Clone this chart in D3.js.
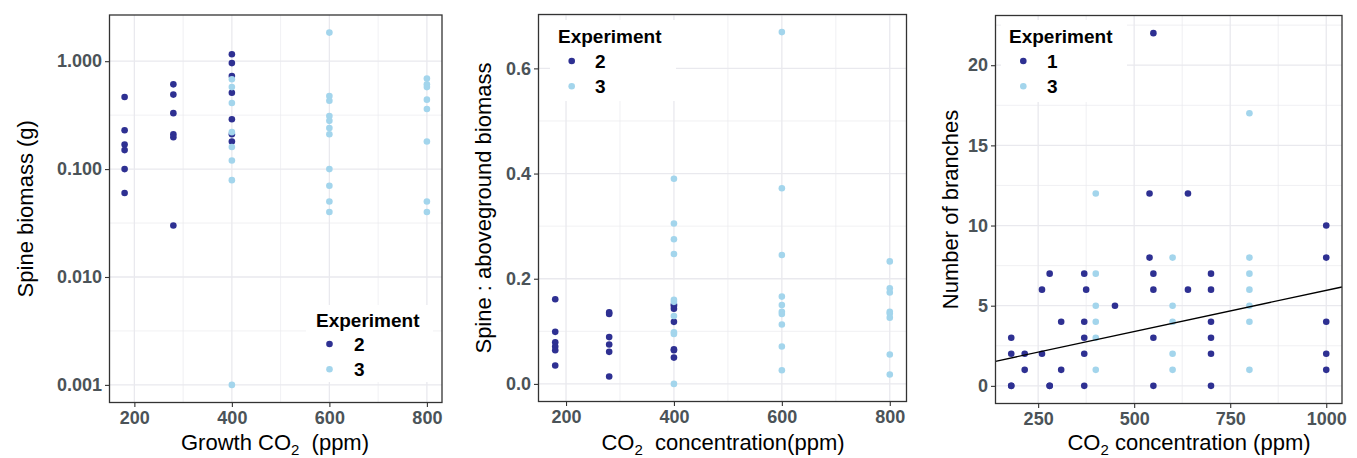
<!DOCTYPE html>
<html>
<head>
<meta charset="utf-8">
<script src="https://cdnjs.cloudflare.com/ajax/libs/d3/7.8.5/d3.min.js"></script>
<style>
    body { margin: 0; background: #fff; }
    svg { display: block; font-family: "Liberation Sans", Arial, Helvetica, sans-serif; }
</style>
</head>
<body>
<svg id="chart" width="1357" height="458"></svg>
<script>
// panel 1: spine biomass (g), log scale
const biomassExp2 = [
    [180, 0.465], [180, 0.229], [180, 0.169], [180, 0.15], [180, 0.10], [180, 0.06],
    [280, 0.61], [280, 0.49], [280, 0.33], [280, 0.21], [280, 0.197], [280, 0.03],
    [400, 1.16], [400, 0.96], [400, 0.73], [400, 0.51], [400, 0.29], [400, 0.21], [400, 0.18]
];
const biomassExp3 = [
    [400, 0.68], [400, 0.575], [400, 0.41], [400, 0.22], [400, 0.16], [400, 0.12], [400, 0.079], [400, 0.001],
    [600, 1.84], [600, 0.475], [600, 0.43], [600, 0.31], [600, 0.28], [600, 0.24], [600, 0.21], [600, 0.10],
    [600, 0.07], [600, 0.05], [600, 0.04],
    [800, 0.69], [800, 0.61], [800, 0.575], [800, 0.44], [800, 0.36], [800, 0.18], [800, 0.05], [800, 0.04]
];
const biomassTicks = [0.001, 0.01, 0.1, 1];

// panel 2: spine : aboveground biomass
const ratioExp2 = [
    [180, 0.161], [180, 0.099], [180, 0.079], [180, 0.071], [180, 0.064], [180, 0.035],
    [280, 0.136], [280, 0.133], [280, 0.089], [280, 0.075], [280, 0.061], [280, 0.014],
    [400, 0.151], [400, 0.148], [400, 0.143], [400, 0.118], [400, 0.066], [400, 0.064], [400, 0.05]
];
const ratioExp3 = [
    [400, 0.39], [400, 0.305], [400, 0.275], [400, 0.247], [400, 0.16], [400, 0.156], [400, 0.129],
    [400, 0.098], [400, 0.095], [400, 0.0],
    [600, 0.669], [600, 0.372], [600, 0.245], [600, 0.166], [600, 0.150], [600, 0.137], [600, 0.133],
    [600, 0.113], [600, 0.071], [600, 0.026],
    [800, 0.233], [800, 0.182], [800, 0.174], [800, 0.137], [800, 0.134], [800, 0.126], [800, 0.056], [800, 0.018]
];
const ratioTicks = [0, 0.2, 0.4, 0.6];

// panel 3: number of branches
const branchExp1 = [
    [180, 3], [180, 2], [180, 0], [180, 0], [215, 2], [215, 1], [260, 6], [260, 2],
    [280, 7], [280, 0], [280, 0], [310, 4], [310, 1],
    [370, 7], [370, 4], [370, 3], [370, 2], [370, 0], [375, 6], [450, 5],
    [540, 12], [540, 8], [550, 22], [550, 7], [550, 6], [550, 3], [550, 0],
    [640, 12], [640, 6], [700, 7], [700, 6], [700, 4], [700, 3], [700, 2], [700, 0],
    [1000, 10], [1000, 8], [1000, 4], [1000, 2], [1000, 1]
];
const branchExp3 = [
    [400, 12], [400, 7], [400, 5], [400, 4], [400, 3], [400, 1],
    [600, 8], [600, 5], [600, 4], [600, 2], [600, 1],
    [800, 17], [800, 8], [800, 7], [800, 6], [800, 5], [800, 4], [800, 1]
];
const branchTicks = [0, 5, 10, 15, 20];
const branchFit = { intercept: 0.815, slope: 0.00514 };

const colours = { dark: "#2e3092", light: "#a3d5ec" };
const gridCol = "#e9e9ee", tickCol = "#4b5358";

const svg = d3.select("#chart");

// ggplot-like 5% expansion
function expand(ext, f = 0.05) {
    const d = (ext[1] - ext[0]) * f;
    return [ext[0] - d, ext[1] + d];
}

function panel(o) {
    const all = o.series.flatMap(s => s.data);
    const x = d3.scaleLinear().domain(expand(d3.extent(all, d => d[0]))).range([o.left, o.right]);
    let y;
    if (o.log) {
        const le = expand(d3.extent(all, d => Math.log10(d[1])));
        y = d3.scaleLog().domain([10 ** le[0], 10 ** le[1]]).range([o.bottom, o.top]);
    } else {
        y = d3.scaleLinear().domain(expand(d3.extent(all, d => d[1]))).range([o.bottom, o.top]);
    }
    const g = svg.append("g");

    g.append("rect").attr("x", o.left).attr("y", o.top)
        .attr("width", o.right - o.left).attr("height", o.bottom - o.top).attr("fill", "#fff");

    // grid
    const [x0, x1] = x.domain(), [y0, y1] = y.domain();
    const inX = v => v >= x0 && v <= x1;
    const inY = v => v >= Math.min(y0, y1) && v <= Math.max(y0, y1);
    const grid = g.append("g");
    o.xMinor.filter(inX).forEach(v => grid.append("line")
        .attr("x1", x(v)).attr("x2", x(v)).attr("y1", o.top).attr("y2", o.bottom)
        .attr("stroke", gridCol).attr("stroke-width", 0.7));
    o.yMinor.filter(inY).forEach(v => grid.append("line")
        .attr("y1", y(v)).attr("y2", y(v)).attr("x1", o.left).attr("x2", o.right)
        .attr("stroke", gridCol).attr("stroke-width", 0.7));
    o.xTicks.forEach(v => grid.append("line")
        .attr("x1", x(v)).attr("x2", x(v)).attr("y1", o.top).attr("y2", o.bottom)
        .attr("stroke", gridCol).attr("stroke-width", 1.3));
    o.yTicks.forEach(v => grid.append("line")
        .attr("y1", y(v)).attr("y2", y(v)).attr("x1", o.left).attr("x2", o.right)
        .attr("stroke", gridCol).attr("stroke-width", 1.3));

    // legend box (drawn over grid, under points)
    const lg = o.legend;
    g.append("rect").attr("x", lg.x).attr("y", lg.y).attr("width", lg.w).attr("height", lg.h).attr("fill", "#fff");

    // points
    o.series.forEach(s => {
        g.append("g").selectAll("circle").data(s.data).join("circle")
            .attr("cx", d => x(d[0])).attr("cy", d => y(d[1])).attr("r", 3.3)
            .attr("fill", s.colour);
    });

    if (o.fit) {
        g.append("line")
            .attr("x1", x(x0)).attr("y1", y(o.fit.intercept + o.fit.slope * x0))
            .attr("x2", x(x1)).attr("y2", y(o.fit.intercept + o.fit.slope * x1))
            .attr("stroke", "#000").attr("stroke-width", 1.3);
    }

    // axes
    const xa = g.append("g").attr("transform", `translate(0,${o.bottom})`)
        .call(d3.axisBottom(x).tickValues(o.xTicks).tickFormat(d3.format("d"))
            .tickSize(4.5).tickPadding(4).tickSizeOuter(0));
    const ya = g.append("g").attr("transform", `translate(${o.left},0)`)
        .call(d3.axisLeft(y).tickValues(o.yTicks).tickFormat(o.yFormat).tickSize(4.5).tickPadding(3).tickSizeOuter(0));
    [xa, ya].forEach(a => {
        a.select(".domain").remove();
        a.selectAll(".tick line").attr("stroke", "#333").attr("stroke-width", 1.1);
        a.selectAll(".tick text").attr("fill", tickCol).attr("font-size", 18).attr("font-weight", "bold")
            .attr("font-family", "Liberation Sans, Arial, sans-serif");
    });
    xa.selectAll(".tick text").attr("dy", "0.72em");

    g.append("rect").attr("x", o.left).attr("y", o.top)
        .attr("width", o.right - o.left).attr("height", o.bottom - o.top)
        .attr("fill", "none").attr("stroke", "#333").attr("stroke-width", 1.3);

    // axis titles
    g.append("text").attr("transform", `translate(${o.yTitleX},${(o.top + o.bottom) / 2}) rotate(-90)`)
        .attr("text-anchor", "middle").attr("font-size", 22).attr("fill", "#000").text(o.yTitle);
    const xt = g.append("text").attr("x", o.xTitleX).attr("y", 450)
        .attr("text-anchor", "middle").attr("font-size", 22).attr("fill", "#000")
        .attr("xml:space", "preserve");
    o.xTitle.forEach(p => {
        const t = xt.append("tspan").text(p.t);
        if (p.sub) t.attr("font-size", 15).attr("dy", 5);
        if (p.up) t.attr("dy", -5);
    });

    // legend
    g.append("text").attr("x", lg.tx).attr("y", lg.ty).attr("font-size", 19).attr("font-weight", "bold")
        .attr("fill", "#000").text("Experiment");
    o.series.forEach((s, i) => {
        const ky = lg.ky + i * 25.3;
        g.append("circle").attr("cx", lg.dx).attr("cy", ky).attr("r", 3.3).attr("fill", s.colour);
        g.append("text").attr("x", lg.lx).attr("y", ky).attr("dy", "0.36em")
            .attr("font-size", 19).attr("font-weight", "bold").attr("fill", "#000").text(s.name);
    });
}

panel({
    left: 109.5, right: 442, top: 15, bottom: 402.5, log: true,
    series: [
        { name: "2", data: biomassExp2, colour: colours.dark },
        { name: "3", data: biomassExp3, colour: colours.light }
    ],
    xTicks: [200, 400, 600, 800], xMinor: [100, 300, 500, 700, 900],
    yTicks: biomassTicks, yMinor: [10 ** -3.5, 10 ** -2.5, 10 ** -1.5, 10 ** -0.5, 10 ** 0.5],
    yFormat: d3.format(".3f"),
    yTitle: "Spine biomass (g)", yTitleX: 33,
    xTitle: [{ t: "Growth CO" }, { t: "2", sub: true }, { t: "  (ppm)", up: true }], xTitleX: 275,
    legend: { x: 306, y: 305, w: 127, h: 77, tx: 316, ty: 327, dx: 329.5, ky: 344, lx: 354 }
});

panel({
    left: 538.5, right: 906.5, top: 14.5, bottom: 401.5,
    series: [
        { name: "2", data: ratioExp2, colour: colours.dark },
        { name: "3", data: ratioExp3, colour: colours.light }
    ],
    xTicks: [200, 400, 600, 800], xMinor: [100, 300, 500, 700, 900],
    yTicks: ratioTicks, yMinor: [0.1, 0.3, 0.5, 0.7],
    yFormat: d3.format(".1f"),
    yTitle: "Spine : aboveground biomass", yTitleX: 491,
    xTitle: [{ t: "CO" }, { t: "2", sub: true }, { t: "  concentration(ppm)", up: true }], xTitleX: 723,
    legend: { x: 550, y: 20, w: 126, h: 81, tx: 558, ty: 43, dx: 571.7, ky: 61, lx: 595 }
});

panel({
    left: 995.5, right: 1342, top: 15.5, bottom: 403.5,
    series: [
        { name: "1", data: branchExp1, colour: colours.dark },
        { name: "3", data: branchExp3, colour: colours.light }
    ],
    fit: branchFit,
    xTicks: [250, 500, 750, 1000], xMinor: [125, 375, 625, 875],
    yTicks: branchTicks, yMinor: [2.5, 7.5, 12.5, 17.5, 22.5],
    yFormat: d3.format("d"),
    yTitle: "Number of branches", yTitleX: 958,
    xTitle: [{ t: "CO" }, { t: "2", sub: true }, { t: " concentration (ppm)", up: true }], xTitleX: 1189,
    legend: { x: 1001, y: 20, w: 126, h: 82, tx: 1009, ty: 43, dx: 1023.3, ky: 61, lx: 1047 }
});
</script>
</body>
</html>
